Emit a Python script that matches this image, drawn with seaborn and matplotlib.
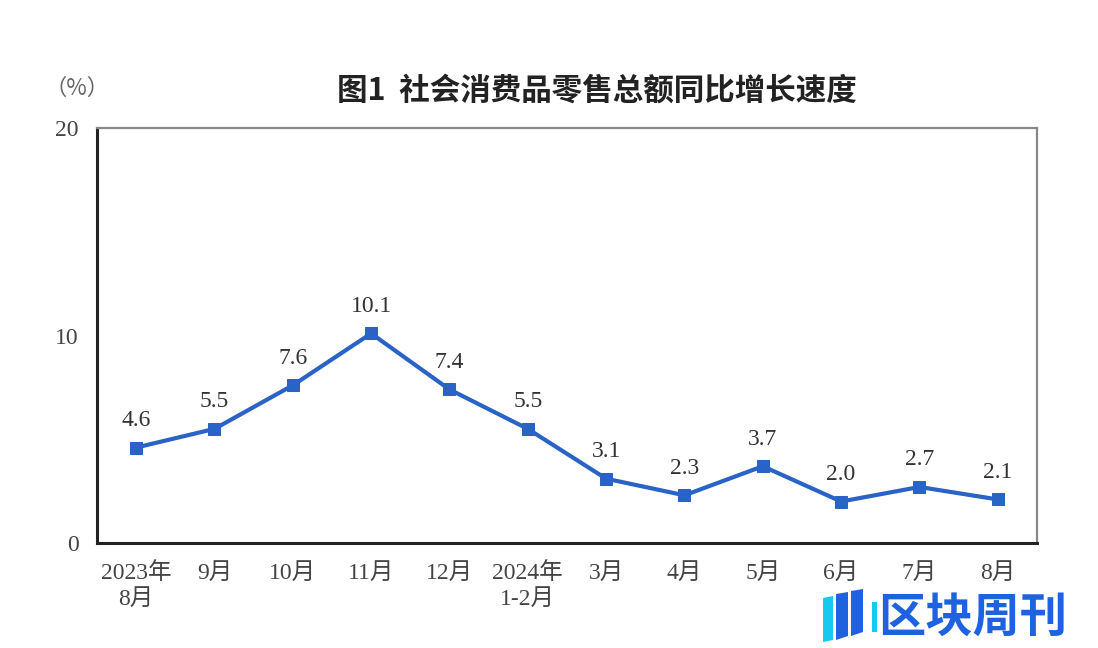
import numpy as np
import pandas as pd
import matplotlib
matplotlib.use("Agg")
import matplotlib.pyplot as plt
from matplotlib.ticker import FixedLocator, NullFormatter
from matplotlib.patches import Polygon
import seaborn as sns

months = ["2023年\n8月", "9月", "10月", "11月", "12月", "2024年\n1-2月",
          "3月", "4月", "5月", "6月", "7月", "8月"]
growth = [4.6, 5.5, 7.6, 10.1, 7.4, 5.5, 3.1, 2.3, 3.7, 2.0, 2.7, 2.1]
y_ticks = [0, 10, 20]
title = "图1  社会消费品零售总额同比增长速度"
unit = "（%）"

sns.set_theme(style="white")
plt.rcParams['font.family'] = ['Liberation Serif', 'Noto Sans CJK SC', 'DejaVu Sans']

df = pd.DataFrame({"idx": np.arange(len(months)), "month": months, "growth": growth})

fig = plt.figure(figsize=(10.98, 6.48), dpi=100)
ax = fig.add_axes([0.0883, 0.162, 0.8561, 0.6405])

line_color = "#2a63c6"
sns.lineplot(data=df, x="idx", y="growth", ax=ax, color=line_color, linewidth=3.0,
             marker="s", markersize=9, markeredgecolor=line_color, markerfacecolor=line_color)

for i, v in zip(df["idx"], df["growth"]):
    ax.annotate(f"{v:.1f}", (i, v), textcoords="offset points", xytext=(0, 12),
                ha="center", va="bottom", fontsize=17, color="#333333")

ax.set_xlim(-0.5, len(months) - 0.5)
ax.set_ylim(0, 20)
ax.set_yticks(y_ticks)
ax.set_yticklabels([str(t) for t in y_ticks], fontsize=17, color="#444444")

ax.xaxis.set_major_locator(FixedLocator(np.arange(0.5, len(months) - 0.5, 1)))
ax.xaxis.set_major_formatter(NullFormatter())
ax.xaxis.set_minor_locator(FixedLocator(np.arange(len(months))))
ax.set_xticklabels(months, minor=True, fontsize=17, color="#444444", linespacing=1.25)
ax.tick_params(axis="x", which="major", direction="in", length=8, width=1.8, color="#222222")
ax.tick_params(axis="x", which="minor", length=0, pad=14)
ax.tick_params(axis="y", direction="in", length=8, width=1.8, color="#222222", pad=13)
ax.set_xlabel("")
ax.set_ylabel("")

for s in ["left", "bottom"]:
    ax.spines[s].set_color("#222222")
    ax.spines[s].set_linewidth(2.2)
for s in ["top", "right"]:
    ax.spines[s].set_color("#888888")
    ax.spines[s].set_linewidth(1.6)

fig.text(0.544, 0.86, title, ha="center", va="center", fontsize=22, fontweight="bold",
         color="#222222", family=['Noto Sans CJK SC', 'DejaVu Sans'])
fig.text(0.070, 0.864, unit, ha="center", va="center", fontsize=16, color="#666666",
         family=['Noto Sans CJK SC', 'DejaVu Sans'])

# watermark logo + text
logo_bars = [
    ([(823, 598), (833, 596), (833, 640), (823, 642)], "#17c8f0"),
    ([(836, 594), (848, 592), (848, 636), (836, 640)], "#1f62e0"),
    ([(851, 591), (863, 589), (863, 632), (851, 636)], "#1f62e0"),
    ([(872, 602), (877, 602), (877, 632), (872, 632)], "#17c8f0"),
]
for pts, col in logo_bars:
    pts_fig = [(x / 1098, 1 - y / 648) for x, y in pts]
    fig.patches.append(Polygon(pts_fig, closed=True, transform=fig.transFigure,
                               facecolor=col, edgecolor="none"))
fig.text(0.800, 0.047, "区块周刊", ha="left", va="center", fontsize=34, fontweight="semibold",
         color="#1f62e0", family=['Noto Sans CJK SC', 'DejaVu Sans'])

fig.savefig("out.png", dpi=100, facecolor="white")
